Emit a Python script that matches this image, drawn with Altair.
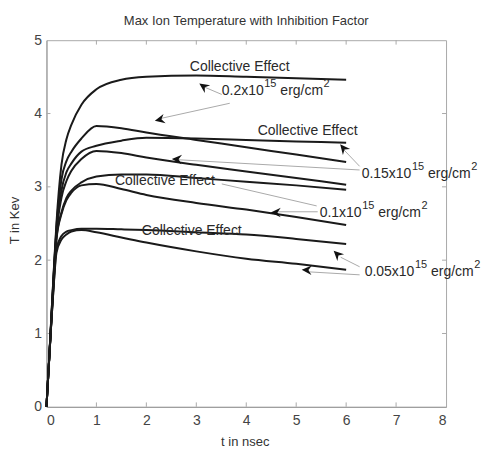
import altair as alt
import pandas as pd

# ---- data ----
t = [0, 0.05, 0.1, 0.15, 0.2, 0.3, 0.4, 0.5, 0.7, 1.0, 1.5, 2, 3, 4, 5, 6]
T_02c = [0, 0.6, 1.25, 1.9, 2.5, 3.3, 3.65, 3.85, 4.12, 4.33, 4.46, 4.5, 4.52, 4.5, 4.48, 4.46]
T_02n = [0, 0.6, 1.25, 1.88, 2.45, 3.1, 3.35, 3.48, 3.66, 3.83, 3.80, 3.74, 3.64, 3.54, 3.44, 3.34]
T_015c = [0, 0.6, 1.22, 1.85, 2.4, 2.95, 3.2, 3.32, 3.48, 3.56, 3.63, 3.67, 3.66, 3.64, 3.62, 3.6]
T_015n = [0, 0.6, 1.22, 1.83, 2.35, 2.85, 3.08, 3.22, 3.38, 3.49, 3.46, 3.4, 3.3, 3.21, 3.12, 3.03]
T_01c = [0, 0.6, 1.2, 1.78, 2.3, 2.65, 2.85, 2.95, 3.06, 3.14, 3.17, 3.17, 3.12, 3.07, 3.02, 2.96]
T_01n = [0, 0.6, 1.2, 1.78, 2.28, 2.63, 2.82, 2.92, 3.02, 3.04, 2.97, 2.89, 2.78, 2.69, 2.59, 2.48]
T_005c = [0, 0.6, 1.18, 1.72, 2.15, 2.33, 2.39, 2.41, 2.43, 2.43, 2.42, 2.41, 2.38, 2.35, 2.29, 2.22]
T_005n = [0, 0.6, 1.18, 1.7, 2.1, 2.28, 2.35, 2.39, 2.41, 2.38, 2.31, 2.24, 2.12, 2.02, 1.95, 1.87]

series = {
    "0.2 collective": T_02c, "0.2": T_02n,
    "0.15 collective": T_015c, "0.15": T_015n,
    "0.1 collective": T_01c, "0.1": T_01n,
    "0.05 collective": T_005c, "0.05": T_005n,
}

# "Collective Effect" labels (left x, mid y)
ce_x = [2.87, 4.23, 1.37, 1.91]
ce_y = [4.63, 3.76, 3.08, 2.40]

# fluence labels
fl_prefix = ["0.2x10", "0.15x10", "0.1x10", "0.05x10"]
fl_x = [3.51, 6.31, 5.47, 6.37]
fl_y = [4.31, 3.17, 2.64, 1.84]

# pointer lines
ln_x = [3.51, 3.67, 6.27, 6.27, 5.43, 5.41, 6.27, 6.27]
ln_y = [4.26, 4.14, 3.28, 3.23, 2.66, 2.74, 1.91, 1.80]
ln_x2 = [3.13, 2.27, 5.92, 2.63, 4.58, 3.51, 5.89, 5.27]
ln_y2 = [4.37, 3.93, 3.53, 3.37, 2.66, 3.04, 2.04, 1.84]

# arrow heads (tip position, rotation)
ah_x = [3.06, 2.17, 5.88, 2.51, 4.49, 5.75, 5.11]
ah_y = [4.41, 3.90, 3.58, 3.38, 2.65, 2.13, 1.87]
ah_ang = [35, 347, 50, 3, 0, 45, 3]

x_ticks = [0, 1, 2, 3, 4, 5, 6, 7, 8]
y_ticks = [0, 1, 2, 3, 4, 5]

# ---- tables ----
rows = []
for name, vals in series.items():
    for tt, vv in zip(t, vals):
        rows.append({"t": tt, "T": vv, "s": name})
df_lines = pd.DataFrame(rows)

df_ln = pd.DataFrame({"x": ln_x, "y": ln_y, "x2": ln_x2, "y2": ln_y2})
df_ah = pd.DataFrame({"x": ah_x, "y": ah_y, "a": ah_ang})

# inward tick marks on all four sides (MATLAB style)
tk = []
for v in x_ticks[1:-1]:
    tk.append({"x": v, "x2": v, "y": 0, "y2": 0.06})
    tk.append({"x": v, "x2": v, "y": 5, "y2": 4.94})
for v in y_ticks[1:-1]:
    tk.append({"x": 0, "x2": 0.08, "y": v, "y2": v})
    tk.append({"x": 8, "x2": 7.92, "y": v, "y2": v})
df_tk = pd.DataFrame(tk)

# text pieces, with superscripts placed from Arial glyph widths
W = {"0": 556, "1": 556, "2": 556, "5": 556, ".": 278, "x": 500, " ": 278,
     "e": 556, "r": 333, "g": 556, "/": 278, "c": 500, "m": 833}
def width(s, size):
    return sum(W[c] for c in s) / 1000 * size

PXX = 50.0   # px per unit of t
PXY = 73.4   # px per unit of T
MAIN, SUP, RAISE = 14, 11, 7
pieces = []
for x0, y0 in zip(ce_x, ce_y):
    pieces.append({"x": x0, "y": y0, "txt": "Collective Effect", "sz": 14})
for p, x0, y0 in zip(fl_prefix, fl_x, fl_y):
    pieces.append({"x": x0, "y": y0, "txt": p, "sz": MAIN})
    xs_ = x0 + (width(p, MAIN) + 0.5) / PXX
    pieces.append({"x": xs_, "y": y0 + RAISE / PXY, "txt": "15", "sz": SUP})
    xe = xs_ + (width("15", SUP) + width(" ", MAIN)) / PXX
    pieces.append({"x": xe, "y": y0, "txt": "erg/cm", "sz": MAIN})
    x2 = xe + (width("erg/cm", MAIN) + 0.5) / PXX
    pieces.append({"x": x2, "y": y0 + RAISE / PXY, "txt": "2", "sz": SUP})
df_txt = pd.DataFrame(pieces)

FONT = "Liberation Sans"
xs = alt.Scale(domain=[0, 8], nice=False, zero=False)
ys = alt.Scale(domain=[0, 5], nice=False, zero=False)

x_axis = alt.Axis(values=x_ticks, format="d", title="t in nsec", grid=False, ticks=False,
                  labelFont=FONT, labelFontSize=14, labelColor="#444",
                  labelPadding=7, domainColor="#999",
                  titleFont=FONT, titleFontSize=13, titleFontWeight="normal",
                  titleColor="#333", titleBaseline="middle", titleX=198.5, titleY=35)
y_axis = alt.Axis(values=y_ticks, format="d", title="T in Kev", grid=False, ticks=False,
                  labelFont=FONT, labelFontSize=14, labelColor="#444",
                  labelPadding=5, domainColor="#999",
                  titleFont=FONT, titleFontSize=13, titleFontWeight="normal",
                  titleColor="#333", titleBaseline="middle", titleX=-31.5, titleY=180)

lines = alt.Chart(df_lines).mark_line(
    interpolate="monotone", color="#1a1a1a", strokeWidth=2
).encode(
    x=alt.X("t:Q", scale=xs, axis=x_axis),
    y=alt.Y("T:Q", scale=ys, axis=y_axis),
    detail="s:N",
)

ticks = alt.Chart(df_tk).mark_rule(color="#aaa", strokeWidth=1).encode(
    x=alt.X("x:Q", scale=xs), y=alt.Y("y:Q", scale=ys), x2="x2:Q", y2="y2:Q"
)

pointers = alt.Chart(df_ln).mark_rule(color="#aaa", strokeWidth=1).encode(
    x=alt.X("x:Q", scale=xs), y=alt.Y("y:Q", scale=ys), x2="x2:Q", y2="y2:Q"
)

heads = alt.Chart(df_ah).mark_point(
    shape="M0,0 L2,-0.95 L1.35,0 L2,0.95 Z", filled=True, opacity=1,
    color="#111", size=100, strokeWidth=0
).encode(
    x=alt.X("x:Q", scale=xs), y=alt.Y("y:Q", scale=ys),
    angle=alt.Angle("a:Q", scale=None),
)

texts = alt.Chart(df_txt).mark_text(
    align="left", baseline="middle", font=FONT, color="#2a2a2a"
).encode(
    x=alt.X("x:Q", scale=xs), y=alt.Y("y:Q", scale=ys),
    text="txt:N", size=alt.Size("sz:Q", scale=None),
)

chart = alt.layer(ticks, lines, pointers, heads, texts).properties(
    width=400, height=367,
    autosize=alt.AutoSizeParams(type="none"),
    padding={"left": 38.5, "top": 32, "right": 39, "bottom": 42},
    title=alt.TitleParams("Max Ion Temperature with Inhibition Factor",
                          font=FONT, fontSize=13, fontWeight="normal",
                          color="#333", offset=5, frame="group"),
).configure_view(stroke="#aaa", strokeWidth=1)

chart.save("out.html", embed_options={"renderer": "svg", "actions": False})
